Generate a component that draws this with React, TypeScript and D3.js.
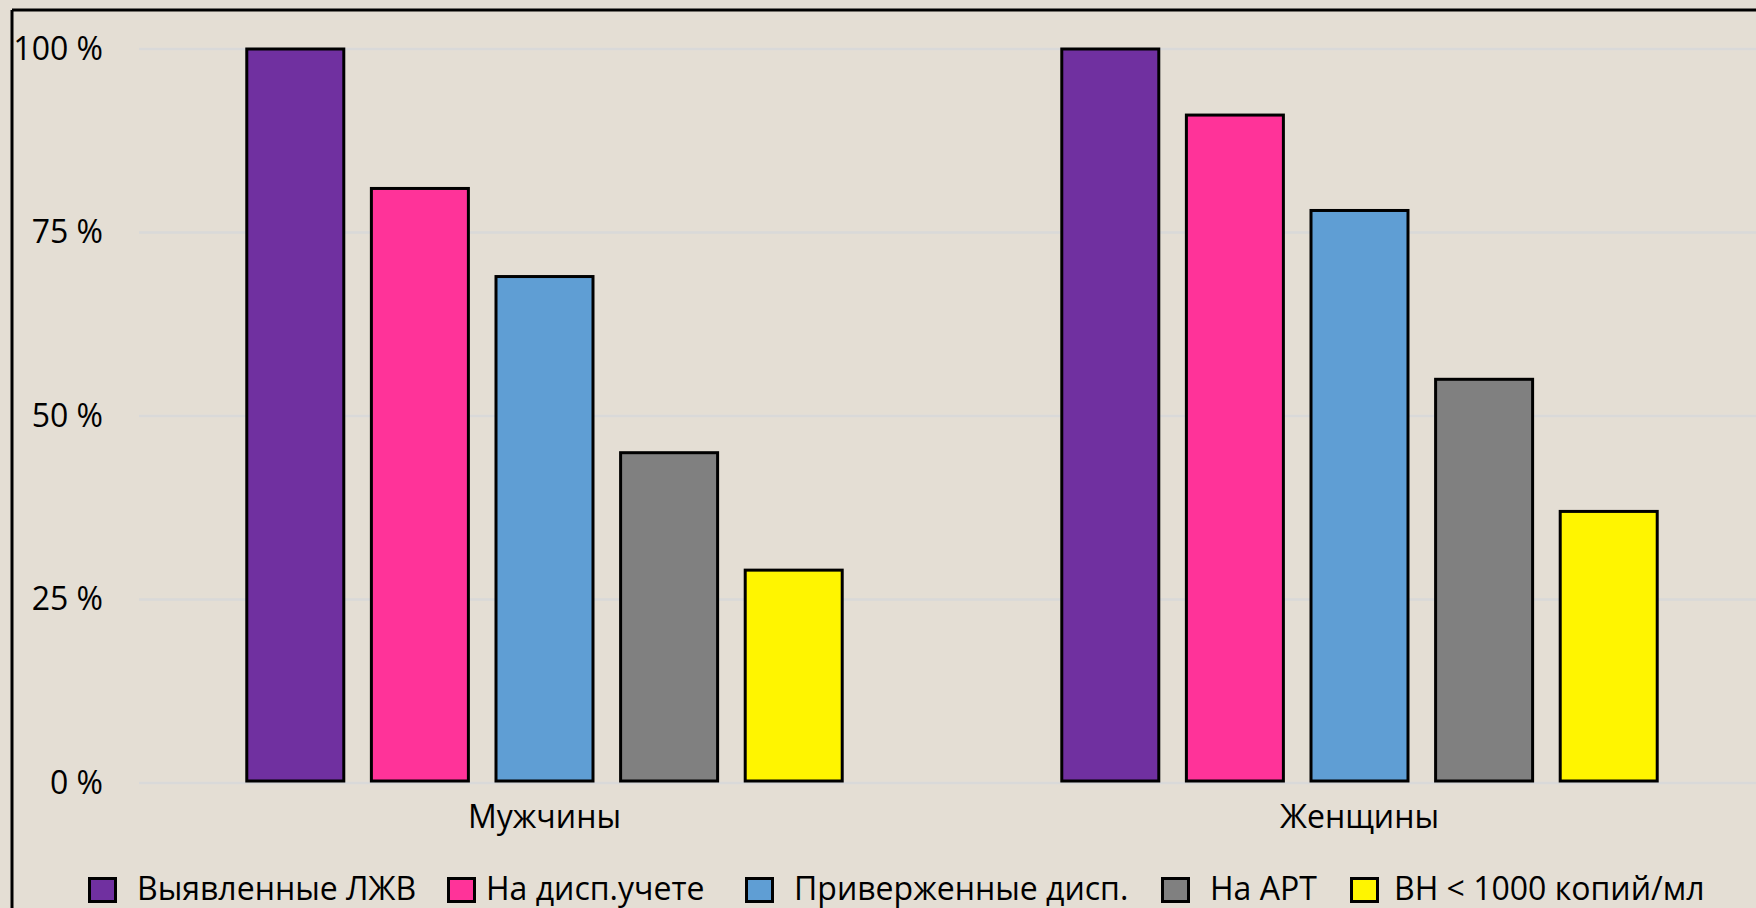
import React, { useEffect } from "react";
import * as d3 from "d3";

const categories = ["Мужчины", "Женщины"];
const seriesNames = [
  "Выявленные ЛЖВ",
  "На дисп.учете",
  "Приверженные дисп.",
  "На АРТ",
  "ВН < 1000 копий/мл",
];
const seriesColors = ["#7030A0", "#FF3399", "#5F9ED4", "#808080", "#FFF500"];
const menValues = [100, 81, 69, 45, 29];
const womenValues = [100, 91, 78, 55, 37];
const yTicks = [0, 25, 50, 75, 100];
const yTickLabels = ["0 %", "25 %", "50 %", "75 %", "100 %"];

const W = 1756;
const H = 908;
const FONT = "'Open Sans', 'Noto Sans', sans-serif";
const FS = 32;

export default function App() {
  useEffect(() => {
    document.body.style.margin = "0";
    document.body.style.overflow = "hidden";
  }, []);

  const values = [menValues, womenValues];

  const x0 = d3.scaleBand<string>().domain(categories).range([137, 1767]).padding(0);
  const x1 = d3
    .scaleBand<string>()
    .domain(seriesNames)
    .range([0, x0.bandwidth()])
    .paddingInner(0.2215)
    .paddingOuter(0.881);
  const y = d3.scaleLinear().domain([0, 100]).range([783, 49]);

  // legend layout (marker left edges, text starts)
  const legendX = [88, 447, 745, 1161, 1350];
  const legendTextX = [137, 486, 794, 1210, 1394];

  return (
    <svg width={W} height={H} style={{ display: "block" }} xmlns="http://www.w3.org/2000/svg">
      <rect x={0} y={0} width={W} height={H} fill="#E4DED4" />
      {/* frame */}
      <line x1={12} y1={10} x2={12} y2={H + 10} stroke="#000" strokeWidth={3} />
      <line x1={12} y1={10} x2={W + 10} y2={10} stroke="#000" strokeWidth={3} />

      {/* gridlines */}
      {yTicks.map((t) => (
        <line key={"g" + t} x1={139} x2={W} y1={y(t)} y2={y(t)} stroke="#D9D9D9" strokeWidth={2.5} />
      ))}
      {/* y labels */}
      {yTicks.map((t, i) => (
        <text
          key={"yl" + t}
          x={103}
          y={y(t) + 10.5}
          textAnchor="end"
          fontFamily={FONT}
          fontSize={FS}
          fill="#000"
        >
          {yTickLabels[i]}
        </text>
      ))}

      {/* bars */}
      {categories.map((c, ci) => (
        <g key={c} transform={`translate(${x0(c)},0)`}>
          {seriesNames.map((s, si) => (
            <rect
              key={s}
              x={x1(s)}
              y={y(values[ci][si])}
              width={x1.bandwidth()}
              height={y(0) - y(values[ci][si]) - 2}
              fill={seriesColors[si]}
              stroke="#000"
              strokeWidth={3}
            />
          ))}
          <text
            x={x0.bandwidth() / 2}
            y={828}
            textAnchor="middle"
            fontFamily={FONT}
            fontSize={FS}
            fill="#000"
          >
            {c}
          </text>
        </g>
      ))}

      {/* legend */}
      {seriesNames.map((s, si) => (
        <g key={"lg" + s}>
          <rect
            x={legendX[si] + 1.5}
            y={878.5}
            width={26}
            height={23}
            fill={seriesColors[si]}
            stroke="#000"
            strokeWidth={3}
          />
          <text x={legendTextX[si]} y={900} fontFamily={FONT} fontSize={FS} fill="#000">
            {s}
          </text>
        </g>
      ))}
    </svg>
  );
}
